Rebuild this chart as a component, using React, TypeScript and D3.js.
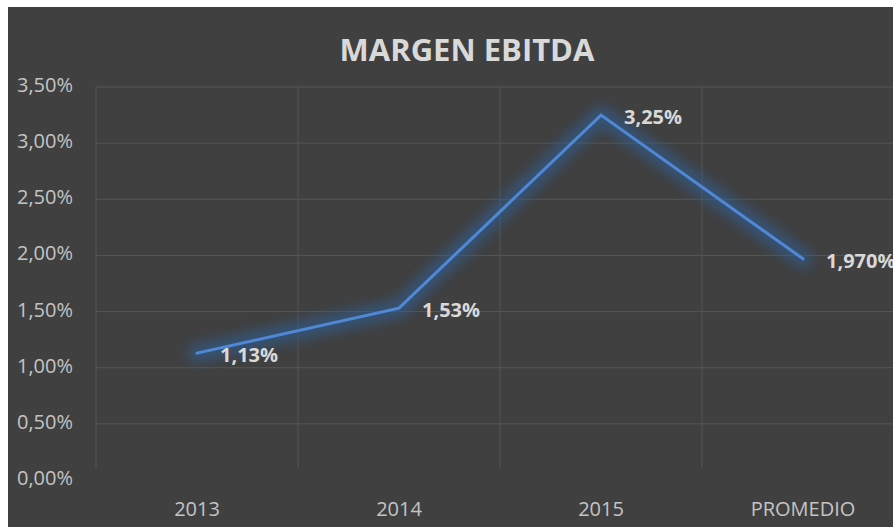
import React from "react";
import * as d3 from "d3";

const categories = ["2013", "2014", "2015", "PROMEDIO"];
const values = [1.13, 1.53, 3.25, 1.97];
const valueLabels = ["1,13%", "1,53%", "3,25%", "1,970%"];
const yTicks = [0, 0.5, 1, 1.5, 2, 2.5, 3, 3.5];
const title = "MARGEN EBITDA";

const W = 893;
const H = 527;
const FONT = "'Open Sans', sans-serif";

export default function App() {
  const x = d3.scaleBand<string>().domain(categories).range([96, 904]);
  const y = d3.scaleLinear().domain([0, 3.5]).range([480, 87]);
  const fmt = (v: number) => v.toFixed(2).replace(".", ",") + "%";
  const cx = (c: string) => (x(c) as number) + x.bandwidth() / 2;
  const line = d3
    .line<number>()
    .x((_, i) => cx(categories[i]))
    .y((d) => y(d));
  const path = line(values) || "";
  const bands = categories.map((c) => x(c) as number);

  return (
    <svg
      width={W}
      height={H}
      style={{ position: "absolute", left: 0, top: 0, display: "block" }}
    >
      <defs>
        <filter id="glow" x="-20%" y="-40%" width="140%" height="180%">
          <feGaussianBlur stdDeviation="6" />
        </filter>
        <clipPath id="clip">
          <rect x={8} y={7} width={W - 8} height={H - 7} />
        </clipPath>
      </defs>
      <rect x={8} y={7} width={W - 8} height={H - 7} fill="#404040" />
      <g clipPath="url(#clip)">
        {yTicks.slice(1).map((t) => (
          <line
            key={"h" + t}
            x1={96}
            x2={W}
            y1={y(t)}
            y2={y(t)}
            stroke="#565656"
            strokeWidth={1}
          />
        ))}
        {bands.map((b, i) => (
          <line
            key={"v" + i}
            x1={b}
            x2={b}
            y1={y(3.5)}
            y2={468}
            stroke="#555555"
            strokeWidth={1}
          />
        ))}
        <path
          d={path}
          fill="none"
          stroke="#2f5f9a"
          strokeOpacity={0.6}
          strokeWidth={18}
          strokeLinejoin="round"
          strokeLinecap="round"
          filter="url(#glow)"
        />
        <path
          d={path}
          fill="none"
          stroke="#4f88d6"
          strokeWidth={3}
          strokeLinejoin="miter"
          strokeLinecap="round"
        />
        {values.map((v, i) => (
          <text
            key={"dl" + i}
            x={cx(categories[i]) + 23}
            y={y(v) + 9}
            fill="#d9d9d9"
            fontFamily={FONT}
            fontWeight="bold"
            fontSize={20}
          >
            {valueLabels[i]}
          </text>
        ))}
        {yTicks.map((t) => (
          <text
            key={"yl" + t}
            x={73}
            y={y(t) + 5}
            textAnchor="end"
            fill="#c4c4c4"
            fontFamily={FONT}
            fontSize={20}
          >
            {fmt(t)}
          </text>
        ))}
        {categories.map((c) => (
          <text
            key={"xl" + c}
            x={cx(c)}
            y={516}
            textAnchor="middle"
            fill="#c4c4c4"
            fontFamily={FONT}
            fontSize={20}
          >
            {c}
          </text>
        ))}
        <text
          x={467}
          y={61}
          textAnchor="middle"
          fill="#d9d9d9"
          fontFamily={FONT}
          fontWeight="bold"
          fontSize={31}
        >
          {title}
        </text>
      </g>
    </svg>
  );
}
